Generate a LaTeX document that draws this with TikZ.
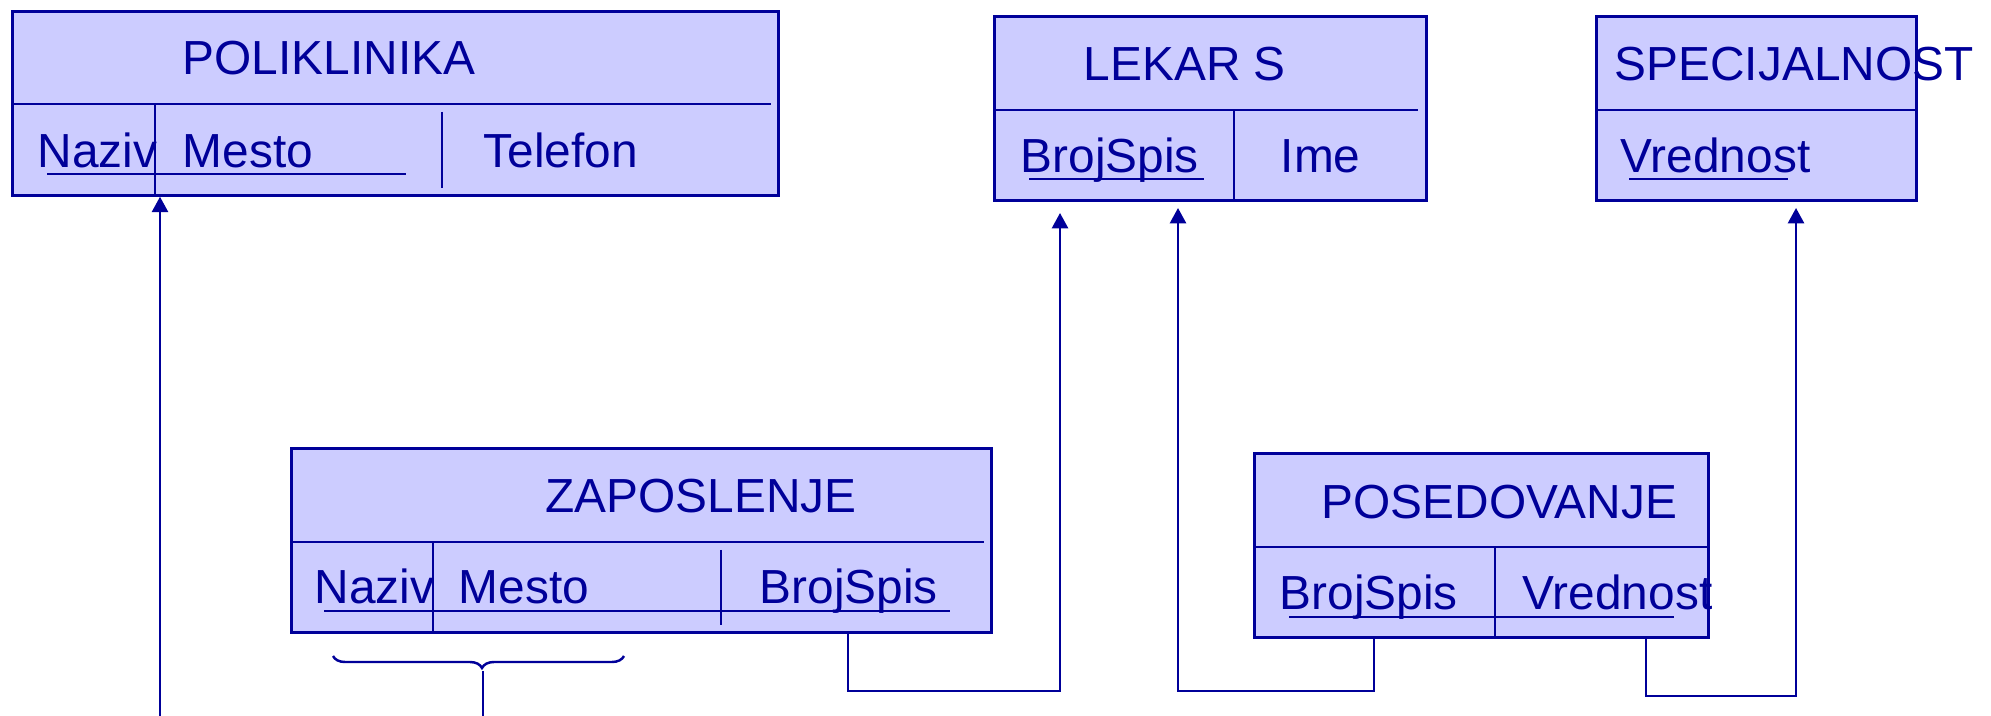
\documentclass[tikz,border=0pt]{standalone}
\usepackage{fontspec}
\setmainfont{Liberation Sans}
\usetikzlibrary{arrows.meta,decorations.pathreplacing}
\definecolor{ink}{HTML}{000099}
\definecolor{fillc}{HTML}{CCCCFF}
\begin{document}
\begin{tikzpicture}[x=0.01cm,y=-0.01cm,
 ent/.style={draw=ink, fill=fillc, line width=0.75pt, inner sep=0pt, anchor=north west},
 sep/.style={draw=ink, line width=0.7pt},
 lbl/.style={text=ink, font=\fontsize{13.6}{16}\selectfont, inner sep=0pt, anchor=base west},
 link/.style={draw=ink, line width=0.7pt},
 arr/.style={link, -{Triangle[length=4.4pt,width=4.6pt]}}]
\useasboundingbox (0,0) rectangle (1991,716);

% entity boxes
\node[ent, minimum width=7.66cm, minimum height=1.84cm] (pol) at (11,10) {};
\node[ent, minimum width=4.32cm, minimum height=1.84cm] (lek) at (993,15) {};
\node[ent, minimum width=3.20cm, minimum height=1.84cm] (spe) at (1595,15) {};
\node[ent, minimum width=7.00cm, minimum height=1.84cm] (zap) at (290,447) {};
\node[ent, minimum width=4.54cm, minimum height=1.84cm] (pos) at (1253,452) {};

% internal separators and key underlines
\draw[sep] (11,104) -- (771,104);
\draw[sep] (155,104) -- (155,194);
\draw[sep] (442,112) -- (442,188);
\draw[sep] (47,174) -- (406,174);

\draw[sep] (993,110) -- (1418,110);
\draw[sep] (1234,110) -- (1234,199);
\draw[sep] (1029,179) -- (1204,179);

\draw[sep] (1595,110) -- (1915,110);
\draw[sep] (1629,179) -- (1788,179);

\draw[sep] (290,542) -- (984,542);
\draw[sep] (433,542) -- (433,631);
\draw[sep] (721,550) -- (721,625);
\draw[sep] (324,611) -- (950,611);

\draw[sep] (1253,547) -- (1707,547);
\draw[sep] (1495,547) -- (1495,636);
\draw[sep] (1289,617) -- (1674,617);

% labels
\node[lbl] (tpol) at (182,75) {POLIKLINIKA};
\node[lbl] (pn) at (37,168) {Naziv};
\node[lbl] (pm) at (182,168) {Mesto};
\node[lbl] (pt) at (483,168) {Telefon};

\node[lbl] (tlek) at (1083,81) {LEKAR S};
\node[lbl] (lb1) at (1020,173) {BrojSpis};
\node[lbl] (li) at (1280,173) {Ime};

\node[lbl] (tspe) at (1614,81) {SPECIJALNOST};
\node[lbl] (sv) at (1620,173) {Vrednost};

\node[lbl] (tzap) at (545,513) {ZAPOSLENJE};
\node[lbl] (zn) at (314,604) {Naziv};
\node[lbl] (zm) at (458,604) {Mesto};
\node[lbl] (zb) at (759,604) {BrojSpis};

\node[lbl] (tpos) at (1321,519) {POSEDOVANJE};
\node[lbl] (pb) at (1279,610) {BrojSpis};
\node[lbl] (pv) at (1522,610) {Vrednost};

% connectors
\coordinate (b1) at (160,716);
\draw[arr] (b1) -- (b1 |- pol.south);

\coordinate (brL) at (333,656);
\coordinate (brR) at (624,656);
\draw[link, decorate, decoration={brace, mirror, amplitude=0.12cm, aspect=0.512}] (brL) -- (brR);
\coordinate (brT) at (483,671);
\coordinate (brB) at (483,716);
\draw[link] (brT) -- (brB);

\coordinate (z1) at (848,691);
\coordinate (la) at (1060,213);
\draw[arr] (zap.south -| z1) -- (z1) -| (la);

\coordinate (p1) at (1374,691);
\coordinate (lb) at (1178,208);
\draw[arr] (pos.south -| p1) -- (p1) -| (lb);

\coordinate (p2) at (1646,696);
\coordinate (sa) at (1796,208);
\draw[arr] (pos.south -| p2) -- (p2) -| (sa);
\end{tikzpicture}
\end{document}
